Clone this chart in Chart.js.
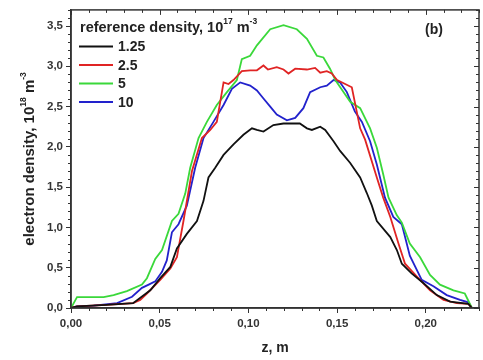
<!DOCTYPE html>
<html>
<head>
<meta charset="utf-8">
<script src="https://cdn.jsdelivr.net/npm/chart.js@4/dist/chart.umd.min.js"></script>
<style>
html,body{margin:0;padding:0;background:#fff;}
#wrap{width:483px;height:360px;position:relative;}
</style>
</head>
<body>
<div id="wrap"><canvas id="c" width="483" height="360"></canvas></div>
<script>
// ---- data ----
const seriesLabels = ['1.25', '2.5', '5', '10'];

const z125 = [0, 0.0034, 0.02, 0.035, 0.0447, 0.0503, 0.056, 0.0597, 0.0653, 0.071, 0.0747, 0.0775, 0.0813, 0.086, 0.0916, 0.0972, 0.102, 0.1048, 0.1085, 0.1141, 0.1198, 0.129, 0.133, 0.1358, 0.1405, 0.1433, 0.148, 0.1517, 0.1574, 0.163, 0.1667, 0.1696, 0.1724, 0.18, 0.1837, 0.1865, 0.192, 0.1986, 0.2062, 0.2137, 0.224, 0.226];
const n125 = [0, 0.02, 0.04, 0.06, 0.22, 0.37, 0.51, 0.74, 0.92, 1.08, 1.33, 1.62, 1.74, 1.90, 2.03, 2.15, 2.23, 2.21, 2.19, 2.27, 2.29, 2.29, 2.23, 2.21, 2.25, 2.21, 2.07, 1.95, 1.80, 1.62, 1.43, 1.27, 1.08, 0.88, 0.72, 0.55, 0.43, 0.31, 0.16, 0.08, 0.05, 0];

const z25 = [0, 0.0034, 0.02, 0.035, 0.039, 0.0428, 0.0503, 0.056, 0.0597, 0.0634, 0.0682, 0.0738, 0.0785, 0.0822, 0.086, 0.0888, 0.0916, 0.0963, 0.101, 0.1048, 0.1085, 0.111, 0.116, 0.1198, 0.1226, 0.1264, 0.133, 0.1376, 0.1405, 0.1442, 0.147, 0.15, 0.1583, 0.163, 0.1658, 0.1724, 0.176, 0.18, 0.1846, 0.1883, 0.195, 0.2024, 0.21, 0.2175, 0.224, 0.226];
const n25 = [0, 0.02, 0.04, 0.06, 0.10, 0.18, 0.35, 0.49, 0.63, 1.08, 1.70, 2.11, 2.21, 2.31, 2.80, 2.78, 2.83, 2.94, 2.95, 2.95, 3.01, 2.96, 2.99, 2.96, 2.91, 2.97, 2.96, 2.98, 2.92, 2.94, 2.91, 2.83, 2.74, 2.23, 2.09, 1.62, 1.37, 1.13, 0.80, 0.55, 0.39, 0.22, 0.10, 0.06, 0.05, 0];

const z5 = [0, 0.0034, 0.0184, 0.024, 0.0315, 0.04, 0.0428, 0.0475, 0.0513, 0.0569, 0.0606, 0.0644, 0.0672, 0.0719, 0.0766, 0.0822, 0.0879, 0.0935, 0.0963, 0.101, 0.1048, 0.1123, 0.1198, 0.1273, 0.133, 0.1386, 0.1423, 0.146, 0.149, 0.1536, 0.1574, 0.163, 0.1686, 0.1724, 0.176, 0.179, 0.1837, 0.1865, 0.191, 0.1968, 0.2024, 0.208, 0.2156, 0.222, 0.226];
const n5 = [0, 0.135, 0.135, 0.16, 0.21, 0.29, 0.37, 0.61, 0.72, 1.08, 1.17, 1.42, 1.74, 2.11, 2.31, 2.52, 2.68, 2.83, 3.09, 3.13, 3.26, 3.46, 3.51, 3.46, 3.34, 3.13, 3.11, 2.97, 2.83, 2.68, 2.56, 2.48, 2.23, 1.99, 1.66, 1.37, 1.15, 1.06, 0.80, 0.63, 0.41, 0.29, 0.22, 0.18, 0];

const z10 = [0, 0.0034, 0.0128, 0.026, 0.0344, 0.04, 0.0438, 0.0475, 0.0513, 0.054, 0.0569, 0.0606, 0.0653, 0.070, 0.0747, 0.0803, 0.086, 0.0907, 0.0954, 0.101, 0.1048, 0.1085, 0.1123, 0.116, 0.1217, 0.1264, 0.131, 0.1348, 0.1405, 0.1442, 0.148, 0.1517, 0.1555, 0.160, 0.164, 0.1686, 0.1724, 0.177, 0.1817, 0.1865, 0.191, 0.1977, 0.2043, 0.2118, 0.2193, 0.224, 0.226];
const n10 = [0, 0.02, 0.03, 0.06, 0.14, 0.25, 0.29, 0.33, 0.45, 0.59, 0.94, 1.04, 1.27, 1.74, 2.11, 2.31, 2.52, 2.72, 2.80, 2.76, 2.70, 2.60, 2.50, 2.40, 2.33, 2.36, 2.48, 2.68, 2.74, 2.76, 2.83, 2.80, 2.68, 2.44, 2.31, 2.07, 1.78, 1.37, 1.13, 1.04, 0.65, 0.35, 0.27, 0.16, 0.10, 0.07, 0];

const xTicks = [0, 0.05, 0.10, 0.15, 0.20];
const yTicks = [0, 0.5, 1.0, 1.5, 2.0, 2.5, 3.0, 3.5];

// ---- styles ----
const colors = ['#111111', '#e02424', '#3ad83a', '#2222cc'];
const FONT = '"Liberation Sans", Arial, sans-serif';
const AXIS = '#333333';

function pts(zs, ns){ return zs.map((z,i)=>({x:z, y:ns[i]})); }
const seriesZ = [z125, z25, z5, z10];
const seriesN = [n125, n25, n5, n10];

const datasets = seriesLabels.map((lab,i)=>({
  label: lab,
  data: pts(seriesZ[i], seriesN[i]),
  borderColor: colors[i],
  backgroundColor: colors[i],
  borderWidth: 1.8,
  pointRadius: 0,
  tension: 0,
  fill: false
}));

function comma(v, d){ return v.toFixed(d).replace('.', ','); }

function supText(ctx, parts, x, y){
  let cx = x;
  for (const p of parts){
    ctx.font = 'bold ' + p.size + 'px ' + FONT;
    ctx.fillText(p.t, cx, y + (p.dy||0));
    cx += ctx.measureText(p.t).width;
  }
  return cx - x;
}
function measureParts(ctx, parts){
  let w = 0;
  for (const p of parts){ ctx.font = 'bold ' + p.size + 'px ' + FONT; w += ctx.measureText(p.t).width; }
  return w;
}

const decor = {
  id: 'decor',
  afterDraw(chart){
    const ctx = chart.ctx, a = chart.chartArea;
    const xs = chart.scales.x, ys = chart.scales.y;
    ctx.save();
    // frame
    ctx.strokeStyle = AXIS; ctx.lineWidth = 1.5;
    ctx.strokeRect(a.left, a.top, a.right - a.left, a.bottom - a.top);
    // minor + mirrored ticks
    ctx.lineWidth = 1;
    ctx.beginPath();
    for (let k = 0; k <= 23; k++){
      const v = k / 100;
      const px = Math.round(xs.getPixelForValue(v)) + 0.5;
      const major = (k % 5 === 0);
      const len = major ? 5 : 3;
      if (!major){ ctx.moveTo(px, a.bottom); ctx.lineTo(px, a.bottom + len); }
      ctx.moveTo(px, a.top); ctx.lineTo(px, a.top + len);
    }
    for (let k = 0; k <= 37; k++){
      const v = k / 10;
      const py = Math.round(ys.getPixelForValue(v)) + 0.5;
      const major = (k % 5 === 0);
      const len = major ? 5 : 3;
      if (!major){ ctx.moveTo(a.left, py); ctx.lineTo(a.left - len, py); }
      ctx.moveTo(a.right, py); ctx.lineTo(a.right - len, py);
    }
    ctx.stroke();

    ctx.fillStyle = '#222';
    ctx.textBaseline = 'middle';
    ctx.textAlign = 'left';
    // legend title
    supText(ctx, [
      {t:'reference density, 10', size:14.5},
      {t:'17', size:8.5, dy:-6},
      {t:' m', size:14.5},
      {t:'-3', size:8.5, dy:-6}
    ], 80, 28);
    // legend entries
    const ly = [46.5, 65, 83.5, 102];
    chart.data.datasets.forEach((ds, i)=>{
      ctx.strokeStyle = ds.borderColor; ctx.lineWidth = 2;
      ctx.beginPath(); ctx.moveTo(79, ly[i]); ctx.lineTo(113, ly[i]); ctx.stroke();
      ctx.fillStyle = '#222';
      ctx.font = 'bold 14px ' + FONT;
      ctx.fillText(ds.label, 118, ly[i] + 1);
    });
    // panel tag
    ctx.font = 'bold 14px ' + FONT;
    ctx.fillText('(b)', 425, 30);
    // x title
    ctx.textAlign = 'center';
    ctx.font = 'bold 14px ' + FONT;
    ctx.fillText('z, m', (a.left + a.right)/2, 348);
    // y title
    const yparts = [
      {t:'electron density, 10', size:15},
      {t:'18', size:8.5, dy:-6},
      {t:' m', size:15},
      {t:'-3', size:8.5, dy:-6}
    ];
    ctx.textAlign = 'left';
    const w = measureParts(ctx, yparts);
    ctx.translate(30, (a.top + a.bottom)/2);
    ctx.rotate(-Math.PI/2);
    supText(ctx, yparts, -w/2, 0);
    ctx.restore();
  }
};

new Chart(document.getElementById('c'), {
  type: 'line',
  data: { datasets },
  options: {
    responsive: false,
    animation: false,
    layout: { padding: { top: 7, right: 4, left: 0, bottom: 0 } },
    plugins: { legend: { display: false }, tooltip: { enabled: false } },
    scales: {
      x: {
        type: 'linear', min: 0, max: 0.23,
        afterBuildTicks(s){ s.ticks = xTicks.map(v=>({value:v})); },
        afterFit(s){ s.height = 52; },
        grid: { display: true, drawOnChartArea: false, drawTicks: true, tickLength: 5, color: AXIS, lineWidth: 1 },
        border: { display: true, color: AXIS, width: 1.5 },
        ticks: { color: '#333', padding: 4, maxRotation: 0, autoSkip: false,
          font: { family: FONT, size: 11.5, weight: 'bold' },
          callback: v => comma(v, 2) }
      },
      y: {
        type: 'linear', min: 0, max: 3.7,
        afterBuildTicks(s){ s.ticks = yTicks.map(v=>({value:v})); },
        afterFit(s){ s.width = 71; },
        grid: { display: true, drawOnChartArea: false, drawTicks: true, tickLength: 5, color: AXIS, lineWidth: 1 },
        border: { display: true, color: AXIS, width: 1.5 },
        ticks: { color: '#333', padding: 3, autoSkip: false,
          font: { family: FONT, size: 11.5, weight: 'bold' },
          callback: v => comma(v, 1) }
      }
    }
  },
  plugins: [decor]
});
</script>
</body>
</html>
